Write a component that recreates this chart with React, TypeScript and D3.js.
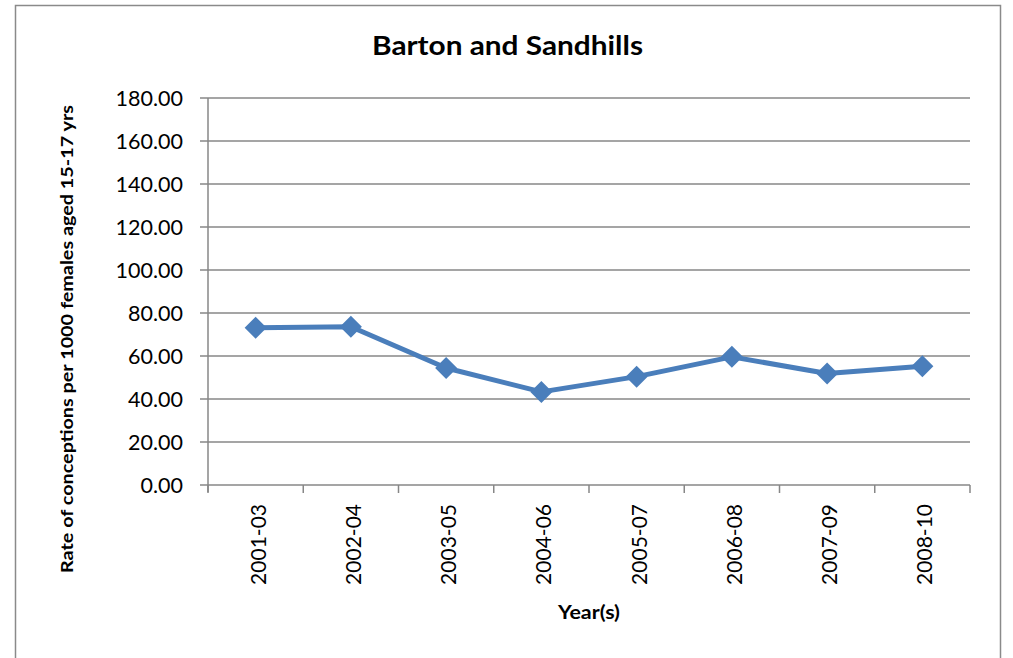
import { useEffect, useRef } from 'react'
import { select, scaleLinear, scaleBand, line, range } from 'd3'

const categories = ['2001-03', '2002-04', '2003-05', '2004-06', '2005-07', '2006-08', '2007-09', '2008-10']
const rates = [73.1, 73.6, 54.4, 43.3, 50.4, 59.6, 51.9, 55.2]
const yTicks = [0, 20, 40, 60, 80, 100, 120, 140, 160, 180]

const FONT = 'Lato, "Open Sans", sans-serif'

const App = () => {
  const svgRef = useRef(null)

  useEffect(() => {
    const width = 1013
    const height = 658
    const left = 208
    const right = 970
    const top = 98
    const bottom = 485

    const svg = select(svgRef.current)
    svg.selectAll('*').remove()
    svg.attr('width', width).attr('height', height).style('display', 'block')

    // outer chart frame
    svg
      .append('rect')
      .attr('x', 15.5)
      .attr('y', 5.5)
      .attr('width', 985)
      .attr('height', 680)
      .attr('fill', 'white')
      .attr('stroke', '#8a8a8a')
      .attr('stroke-width', 1.5)

    const x = scaleBand<string>().domain(categories).range([left, right])
    const y = scaleLinear().domain([0, 180]).range([bottom, top])

    // gridlines + y ticks
    const grid = svg.append('g')
    grid
      .selectAll('line')
      .data(yTicks)
      .join('line')
      .attr('x1', left - 8)
      .attr('x2', right)
      .attr('y1', (d) => y(d))
      .attr('y2', (d) => y(d))
      .attr('stroke', '#878787')
      .attr('stroke-width', 1.5)

    grid
      .selectAll('text')
      .data(yTicks)
      .join('text')
      .attr('x', 183)
      .attr('y', (d) => y(d))
      .attr('dy', '0.36em')
      .attr('text-anchor', 'end')
      .attr('font-family', FONT)
      .attr('font-size', 21.5)
      .attr('fill', '#000')
      .text((d) => d.toFixed(2))

    // y axis line
    svg
      .append('line')
      .attr('x1', left)
      .attr('x2', left)
      .attr('y1', top)
      .attr('y2', bottom + 7)
      .attr('stroke', '#878787')
      .attr('stroke-width', 1.5)

    // x ticks at category boundaries
    const boundaries = range(categories.length + 1).map((i) => left + i * x.bandwidth())
    svg
      .append('g')
      .selectAll('line')
      .data(boundaries)
      .join('line')
      .attr('x1', (d) => d)
      .attr('x2', (d) => d)
      .attr('y1', bottom)
      .attr('y2', bottom + 8)
      .attr('stroke', '#878787')
      .attr('stroke-width', 1.5)

    // x labels, rotated
    svg
      .append('g')
      .selectAll('text')
      .data(categories)
      .join('text')
      .attr('transform', (d) => `translate(${x(d)! + x.bandwidth() / 2 + 10},${bottom + 19}) rotate(-90)`)
      .attr('text-anchor', 'end')
      .attr('font-family', FONT)
      .attr('font-size', 21)
      .attr('fill', '#000')
      .text((d) => d)

    // series line
    const path = line<number>()
      .x((_, i) => x(categories[i])! + x.bandwidth() / 2)
      .y((d) => y(d))
    svg
      .append('path')
      .datum(rates)
      .attr('d', path)
      .attr('fill', 'none')
      .attr('stroke', '#4a7ebb')
      .attr('stroke-width', 5)
      .attr('stroke-linejoin', 'round')

    // diamond markers
    const s = 11
    svg
      .append('g')
      .selectAll('path')
      .data(rates)
      .join('path')
      .attr('transform', (d, i) => `translate(${x(categories[i])! + x.bandwidth() / 2},${y(d)})`)
      .attr('d', `M0,${-s}L${s},0L0,${s}L${-s},0Z`)
      .attr('fill', '#4a7ebb')

    // title
    svg
      .append('text')
      .attr('x', 507.5)
      .attr('y', 55)
      .attr('text-anchor', 'middle')
      .attr('font-family', FONT)
      .attr('font-weight', 'bold')
      .attr('font-size', 26)
      .attr('textLength', 271)
      .attr('lengthAdjust', 'spacingAndGlyphs')
      .text('Barton and Sandhills')

    // axis titles
    svg
      .append('text')
      .attr('transform', `translate(73,339) rotate(-90)`)
      .attr('text-anchor', 'middle')
      .attr('font-family', FONT)
      .attr('font-weight', 'bold')
      .attr('font-size', 17)
      .attr('textLength', 468)
      .attr('lengthAdjust', 'spacingAndGlyphs')
      .text('Rate of conceptions per 1000 females aged 15-17 yrs')

    svg
      .append('text')
      .attr('x', 589)
      .attr('y', 619)
      .attr('text-anchor', 'middle')
      .attr('font-family', FONT)
      .attr('font-weight', 'bold')
      .attr('font-size', 18)
      .attr('textLength', 62)
      .attr('lengthAdjust', 'spacingAndGlyphs')
      .text('Year(s)')
  }, [])

  return <svg ref={svgRef} />
}

export default function Root() {
  return (
    <div style={{ position: 'absolute', left: 0, top: 0 }}>
      <App />
    </div>
  )
}
